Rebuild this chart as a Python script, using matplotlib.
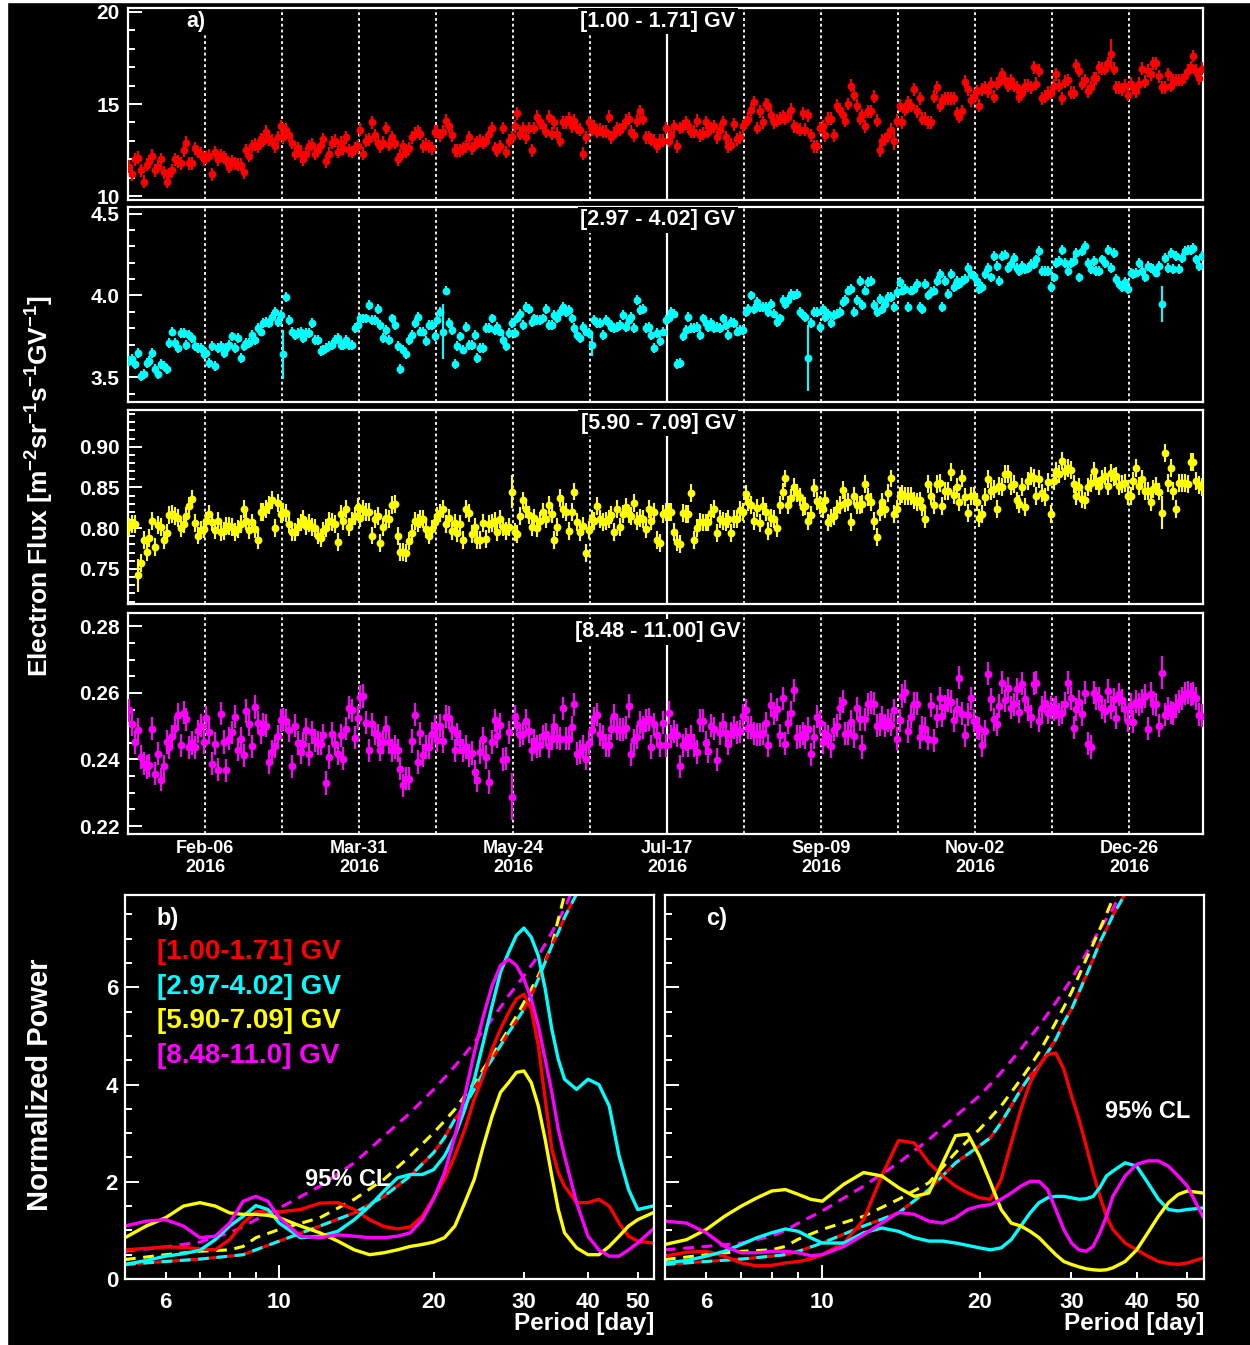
import numpy as np
import pandas as pd
import matplotlib
matplotlib.use("Agg")
import matplotlib.pyplot as plt
import matplotlib.dates as mdates
from matplotlib.patches import Rectangle
from matplotlib.ticker import MultipleLocator, FixedLocator, FormatStrFormatter, FuncFormatter

plt.rcParams['font.family'] = ['Liberation Sans', 'DejaVu Sans']
plt.rcParams['font.weight'] = 'bold'
plt.rcParams['mathtext.fontset'] = 'custom'
plt.rcParams['mathtext.rm'] = 'Liberation Sans:bold'
plt.rcParams['mathtext.bf'] = 'Liberation Sans:bold'
plt.rcParams['mathtext.it'] = 'Liberation Sans:bold'
plt.rcParams['mathtext.default'] = 'bf'

# daily electron fluxes, starting 2016-01-10
flux_1 = [
    11.6, 11.2, 12.0, 12.1, 11.4, 10.8, 11.7, 11.9, 12.2, 11.4, 11.6, 12.0, 11.3, 10.8, 11.2, 11.4, 12.0, 11.9, 11.8, 12.5, 12.9, 11.8, 11.8, 12.6, 12.4, 12.3, 12.0,
    12.1, 12.2, 11.2, 12.4, 12.0, 12.2, 12.1, 12.0, 11.6, 11.9, 11.8, 11.7, 11.7, 11.3, 12.5, 12.2, 12.7, 12.8, 12.7, 13.1, 13.0, 13.5, 13.1, 13.0, 12.7, 13.2, 13.8,
    13.2, 13.6, 13.3, 12.9, 12.3, 12.6, 12.3, 12.0, 12.3, 12.7, 12.8, 12.3, 12.5, 12.8, 13.1, 11.9, 12.3, 12.9, 13.0, 12.4, 12.9, 12.6, 13.2, 12.5, 12.4, 12.6, 12.7,
    13.6, 12.3, 13.0, 13.1, 14.0, 13.3, 12.9, 12.7, 12.9, 13.7, 12.8, 13.2, 12.9, 12.0, 12.2, 12.7, 12.4, 12.6, 13.2, 13.4, 13.5, 13.4, 12.7, 12.8, 12.7, 12.6, 13.5,
    13.5, 13.3, 13.5, 14.1, 13.8, 13.3, 12.5, 12.5, 12.5, 12.6, 12.7, 13.2, 12.6, 12.8, 12.9, 13.0, 12.9, 13.0, 13.4, 13.7, 12.6, 12.5, 12.7, 13.7, 12.4, 13.0, 13.2,
    13.8, 14.5, 13.4, 13.7, 13.2, 13.7, 12.5, 13.7, 14.3, 14.0, 13.8, 13.5, 14.3, 13.4, 14.0, 13.4, 13.0, 14.0, 14.0, 14.2, 13.8, 14.1, 13.7, 13.6, 12.3, 13.2, 14.0,
    13.6, 13.8, 13.5, 13.6, 13.5, 13.5, 14.3, 13.2, 13.4, 13.7, 13.6, 13.8, 14.1, 14.2, 13.5, 13.3, 14.1, 14.6, 14.2, 13.2, 13.2, 13.1, 13.0, 12.7, 13.0, 13.0, 13.7,
    13.0, 13.3, 13.8, 12.7, 13.7, 13.8, 14.0, 13.8, 13.5, 13.5, 14.1, 13.3, 13.4, 14.0, 13.5, 13.7, 13.8, 13.2, 13.6, 14.0, 13.2, 12.7, 12.8, 13.9, 13.1, 13.2, 13.8,
    14.0, 14.2, 14.7, 15.1, 13.7, 14.6, 14.0, 15.0, 14.9, 14.4, 14.0, 14.1, 14.2, 14.3, 14.2, 14.3, 14.7, 13.8, 13.7, 13.6, 14.5, 13.6, 14.4, 13.3, 12.7, 12.7, 13.7,
    13.8, 13.3, 14.2, 14.2, 13.3, 14.9, 14.7, 14.4, 14.1, 15.0, 16.0, 15.5, 14.9, 14.2, 14.4, 13.8, 14.6, 14.6, 15.4, 14.1, 12.5, 13.0, 13.1, 13.3, 13.6, 13.0, 14.1,
    14.9, 14.0, 14.7, 15.1, 14.9, 15.8, 14.6, 15.3, 14.2, 14.2, 14.0, 14.0, 15.4, 15.9, 14.9, 15.2, 15.3, 15.3, 15.3, 15.3, 14.5, 14.3, 14.6, 16.2, 15.8, 15.2, 15.4,
    15.7, 14.9, 15.8, 15.9, 15.7, 16.1, 15.4, 16.1, 16.2, 16.6, 16.3, 16.0, 16.3, 16.0, 15.9, 15.4, 15.6, 16.0, 16.0, 15.9, 17.0, 16.1, 16.8, 15.3, 15.4, 15.6, 15.6,
    16.0, 16.6, 16.0, 15.3, 16.2, 16.3, 15.6, 15.6, 17.1, 16.8, 16.1, 16.3, 15.7, 15.9, 16.4, 16.4, 17.0, 16.9, 16.9, 17.2, 17.7, 16.9, 15.9, 15.9, 15.8, 16.0, 15.5,
    16.1, 15.9, 15.7, 16.1, 16.9, 16.2, 16.8, 16.6, 17.2, 17.2, 16.5, 15.9, 15.9, 16.6, 16.0, 16.3, 16.3, 16.3, 16.3, 16.5, 16.8, 17.0, 17.6, 16.8, 16.4, 16.9,
]
flux_2 = [
    3.60, 3.61, 3.58, 3.65, 3.51, 3.52, 3.59, 3.60, 3.65, 3.55, 3.52, 3.58, 3.57, 3.55, 3.71, 3.78, 3.71, 3.68, 3.77, 3.77, 3.70, 3.76, 3.74, 3.69, 3.68, 3.68, 3.64,
    3.65, 3.59, 3.69, 3.57, 3.68, 3.69, 3.65, 3.68, 3.70, 3.75, 3.68, 3.74, 3.62, 3.69, 3.71, 3.71, 3.76, 3.73, 3.80, 3.78, 3.83, 3.84, 3.83, 3.87, 3.90, 3.84, 3.88,
    3.64, 3.99, 3.85, 3.78, 3.76, 3.77, 3.78, 3.74, 3.77, 3.77, 3.83, 3.73, 3.73, 3.66, 3.67, 3.68, 3.69, 3.70, 3.73, 3.74, 3.70, 3.70, 3.73, 3.70, 3.70, 3.80, 3.82,
    3.86, 3.86, 3.86, 3.94, 3.85, 3.85, 3.92, 3.82, 3.74, 3.79, 3.73, 3.86, 3.82, 3.69, 3.55, 3.67, 3.64, 3.73, 3.76, 3.83, 3.87, 3.78, 3.78, 3.72, 3.82, 3.82, 3.75,
    3.85, 3.90, 3.78, 4.03, 3.83, 3.79, 3.58, 3.69, 3.75, 3.67, 3.81, 3.70, 3.70, 3.76, 3.62, 3.68, 3.68, 3.80, 3.80, 3.86, 3.79, 3.81, 3.78, 3.73, 3.69, 3.77, 3.83,
    3.77, 3.86, 3.89, 3.82, 3.93, 3.92, 3.84, 3.86, 3.85, 3.85, 3.86, 3.92, 3.82, 3.82, 3.88, 3.86, 3.90, 3.93, 3.90, 3.91, 3.86, 3.80, 3.76, 3.74, 3.81, 3.78, 3.77,
    3.70, 3.85, 3.83, 3.83, 3.76, 3.85, 3.83, 3.81, 3.80, 3.81, 3.82, 3.88, 3.81, 3.85, 3.87, 3.80, 3.97, 3.91, 3.92, 3.80, 3.81, 3.76, 3.68, 3.77, 3.72, 3.78, 3.85,
    3.86, 3.90, 3.89, 3.58, 3.59, 3.75, 3.79, 3.87, 3.80, 3.80, 3.81, 3.76, 3.86, 3.83, 3.81, 3.83, 3.80, 3.81, 3.80, 3.86, 3.82, 3.76, 3.84, 3.83, 3.78, 3.79, 3.79,
    3.90, 3.92, 4.00, 3.92, 3.96, 3.93, 3.93, 3.93, 3.90, 3.95, 3.89, 3.84, 3.86, 3.97, 3.95, 3.97, 4.01, 4.00, 4.01, 3.90, 3.88, 3.87, 3.62, 3.83, 3.90, 3.90, 3.81,
    3.92, 3.87, 3.89, 3.83, 3.88, 3.89, 3.90, 3.96, 3.97, 4.03, 4.04, 3.90, 3.97, 4.09, 3.94, 4.03, 4.08, 4.09, 3.94, 3.90, 3.98, 3.92, 3.95, 3.99, 3.99, 3.93, 4.02,
    4.08, 4.03, 4.04, 3.93, 4.03, 4.04, 4.07, 3.93, 3.92, 4.07, 4.00, 4.02, 4.03, 4.09, 4.13, 3.93, 4.09, 4.01, 4.13, 4.05, 4.09, 4.07, 4.09, 4.10, 4.17, 4.13, 4.12,
    4.09, 4.04, 4.05, 4.13, 4.17, 4.11, 4.24, 4.18, 4.09, 4.24, 4.25, 4.17, 4.19, 4.23, 4.17, 4.15, 4.18, 4.16, 4.17, 4.19, 4.19, 4.22, 4.27, 4.15, 4.15, 4.15, 4.05,
    4.11, 4.20, 4.21, 4.28, 4.20, 4.15, 4.20, 4.21, 4.26, 4.11, 4.27, 4.30, 4.20, 4.16, 4.21, 4.15, 4.15, 4.22, 4.20, 4.28, 4.17, 4.26, 4.10, 4.07, 4.05, 4.08, 4.04,
    4.14, 4.13, 4.14, 4.20, 4.15, 4.11, 4.18, 4.17, 4.16, 4.14, 4.18, 3.95, 4.23, 4.17, 4.26, 4.16, 4.24, 4.16, 4.23, 4.27, 4.28, 4.28, 4.29, 4.22, 4.18, 4.24,
]
flux_3 = [
    0.801, 0.805, 0.805, 0.742, 0.757, 0.785, 0.771, 0.788, 0.809, 0.777, 0.804, 0.801, 0.785, 0.794, 0.816, 0.817, 0.815, 0.813, 0.800, 0.805, 0.815, 0.827, 0.836, 0.806, 0.791, 0.798, 0.799,
    0.809, 0.817, 0.807, 0.798, 0.809, 0.795, 0.797, 0.803, 0.803, 0.801, 0.795, 0.799, 0.805, 0.823, 0.809, 0.798, 0.807, 0.799, 0.786, 0.820, 0.820, 0.823, 0.828, 0.835, 0.800, 0.831, 0.817,
    0.820, 0.819, 0.805, 0.795, 0.795, 0.801, 0.807, 0.811, 0.803, 0.806, 0.802, 0.800, 0.791, 0.788, 0.797, 0.800, 0.809, 0.808, 0.805, 0.783, 0.817, 0.809, 0.823, 0.801, 0.809, 0.815, 0.826,
    0.813, 0.824, 0.820, 0.820, 0.791, 0.811, 0.815, 0.782, 0.802, 0.813, 0.811, 0.828, 0.830, 0.790, 0.771, 0.771, 0.769, 0.784, 0.794, 0.809, 0.806, 0.811, 0.811, 0.799, 0.791, 0.799, 0.807,
    0.815, 0.819, 0.824, 0.805, 0.813, 0.796, 0.806, 0.794, 0.805, 0.785, 0.824, 0.819, 0.793, 0.801, 0.786, 0.785, 0.806, 0.787, 0.805, 0.806, 0.809, 0.795, 0.811, 0.802, 0.796, 0.802, 0.845,
    0.795, 0.793, 0.815, 0.834, 0.824, 0.816, 0.801, 0.813, 0.800, 0.809, 0.820, 0.811, 0.828, 0.817, 0.785, 0.801, 0.837, 0.824, 0.820, 0.796, 0.820, 0.845, 0.808, 0.795, 0.803, 0.769, 0.798,
    0.811, 0.809, 0.827, 0.811, 0.808, 0.809, 0.811, 0.816, 0.795, 0.823, 0.802, 0.817, 0.826, 0.817, 0.815, 0.831, 0.809, 0.813, 0.811, 0.799, 0.823, 0.809, 0.820, 0.785, 0.782, 0.817, 0.820,
    0.820, 0.820, 0.795, 0.783, 0.781, 0.819, 0.817, 0.817, 0.843, 0.786, 0.800, 0.808, 0.807, 0.807, 0.807, 0.819, 0.823, 0.794, 0.811, 0.809, 0.808, 0.811, 0.794, 0.811, 0.811, 0.822, 0.820,
    0.842, 0.832, 0.828, 0.809, 0.825, 0.806, 0.827, 0.820, 0.797, 0.813, 0.811, 0.800, 0.828, 0.845, 0.861, 0.828, 0.837, 0.851, 0.843, 0.838, 0.826, 0.827, 0.809, 0.816, 0.849, 0.833, 0.828,
    0.823, 0.835, 0.807, 0.813, 0.815, 0.824, 0.828, 0.847, 0.831, 0.832, 0.808, 0.840, 0.828, 0.828, 0.830, 0.854, 0.838, 0.832, 0.809, 0.789, 0.820, 0.832, 0.824, 0.843, 0.861, 0.817, 0.824,
    0.840, 0.842, 0.839, 0.840, 0.839, 0.834, 0.832, 0.834, 0.826, 0.811, 0.854, 0.840, 0.828, 0.854, 0.856, 0.827, 0.846, 0.846, 0.869, 0.841, 0.850, 0.832, 0.861, 0.838, 0.819, 0.840, 0.839,
    0.832, 0.813, 0.817, 0.838, 0.860, 0.846, 0.848, 0.823, 0.852, 0.850, 0.866, 0.866, 0.852, 0.854, 0.834, 0.830, 0.850, 0.826, 0.858, 0.864, 0.862, 0.839, 0.860, 0.843, 0.838, 0.857, 0.817,
    0.858, 0.870, 0.866, 0.882, 0.870, 0.874, 0.871, 0.854, 0.839, 0.850, 0.836, 0.834, 0.850, 0.856, 0.870, 0.858, 0.852, 0.860, 0.864, 0.852, 0.868, 0.863, 0.864, 0.852, 0.854, 0.856, 0.840,
    0.840, 0.858, 0.874, 0.852, 0.860, 0.846, 0.846, 0.832, 0.848, 0.852, 0.845, 0.819, 0.892, 0.856, 0.874, 0.846, 0.824, 0.855, 0.856, 0.855, 0.854, 0.881, 0.881, 0.858, 0.853, 0.850,
]
flux_4 = [
    0.2548, 0.2506, 0.2452, 0.2489, 0.2407, 0.2387, 0.2377, 0.2382, 0.2492, 0.2357, 0.2417, 0.2339, 0.2379, 0.2452, 0.2436, 0.2469, 0.2495, 0.2534, 0.2442, 0.2541, 0.2521, 0.2436, 0.2449, 0.2436, 0.2485, 0.2501, 0.2452,
    0.2526, 0.2482, 0.2387, 0.2447, 0.2369, 0.2538, 0.2452, 0.2367, 0.2462, 0.2482, 0.2528, 0.2429, 0.2462, 0.2412, 0.2546, 0.2506, 0.2439, 0.2558, 0.2511, 0.2482, 0.2506, 0.2501, 0.2392, 0.2422, 0.2439, 0.2469, 0.2518,
    0.2521, 0.2516, 0.2487, 0.2379, 0.2501, 0.2449, 0.2422, 0.2447, 0.2489, 0.2415, 0.2482, 0.2457, 0.2449, 0.2447, 0.2472, 0.2329, 0.2407, 0.2477, 0.2447, 0.2417, 0.2472, 0.2402, 0.2492, 0.2556, 0.2548, 0.2465, 0.2526,
    0.2588, 0.2591, 0.2511, 0.2427, 0.2506, 0.2479, 0.2472, 0.2429, 0.2452, 0.2495, 0.2452, 0.2427, 0.2437, 0.2427, 0.2372, 0.2322, 0.2342, 0.2342, 0.2455, 0.2534, 0.2392, 0.2479, 0.2412, 0.2437, 0.2437, 0.2477, 0.2499,
    0.2457, 0.2501, 0.2455, 0.2528, 0.2526, 0.2492, 0.2427, 0.2475, 0.2452, 0.2427, 0.2437, 0.2412, 0.2419, 0.2362, 0.2337, 0.2422, 0.2462, 0.2407, 0.2332, 0.2452, 0.2518, 0.2469, 0.2504, 0.2399, 0.2402, 0.2482, 0.2288,
    0.2528, 0.2504, 0.2472, 0.2477, 0.2516, 0.2485, 0.2429, 0.2455, 0.2439, 0.2442, 0.2469, 0.2475, 0.2439, 0.2462, 0.2501, 0.2465, 0.2462, 0.2554, 0.2462, 0.2462, 0.2497, 0.2566, 0.2417, 0.2422, 0.2437, 0.2402, 0.2449,
    0.2487, 0.2524, 0.2534, 0.2475, 0.2467, 0.2442, 0.2442, 0.2492, 0.2531, 0.2492, 0.2489, 0.2489, 0.2495, 0.2561, 0.2415, 0.2457, 0.2467, 0.2511, 0.2495, 0.2516, 0.2521, 0.2437, 0.2506, 0.2472, 0.2442, 0.2511, 0.2442,
    0.2541, 0.2469, 0.2485, 0.2472, 0.2379, 0.2442, 0.2459, 0.2442, 0.2467, 0.2442, 0.2422, 0.2516, 0.2516, 0.2449, 0.2425, 0.2501, 0.2492, 0.2399, 0.2479, 0.2506, 0.2479, 0.2447, 0.2477, 0.2497, 0.2482, 0.2485, 0.2531,
    0.2548, 0.2495, 0.2497, 0.2477, 0.2475, 0.2475, 0.2479, 0.2508, 0.2442, 0.2564, 0.2538, 0.2551, 0.2472, 0.2584, 0.2447, 0.2511, 0.2541, 0.2608, 0.2467, 0.2469, 0.2477, 0.2467, 0.2492, 0.2415, 0.2467, 0.2528, 0.2511,
    0.2452, 0.2477, 0.2469, 0.2439, 0.2489, 0.2501, 0.2554, 0.2574, 0.2477, 0.2479, 0.2514, 0.2469, 0.2554, 0.2521, 0.2437, 0.2521, 0.2566, 0.2571, 0.2568, 0.2501, 0.2506, 0.2526, 0.2501, 0.2516, 0.2504, 0.2548, 0.2462,
    0.2518, 0.2591, 0.2604, 0.2485, 0.2528, 0.2568, 0.2568, 0.2467, 0.2495, 0.2492, 0.2462, 0.2564, 0.2457, 0.2528, 0.2584, 0.2531, 0.2558, 0.2578, 0.2574, 0.2518, 0.2551, 0.2646, 0.2538, 0.2472, 0.2534, 0.2584, 0.2516,
    0.2497, 0.2492, 0.2442, 0.2485, 0.2658, 0.2581, 0.2521, 0.2506, 0.2561, 0.2631, 0.2578, 0.2614, 0.2556, 0.2566, 0.2611, 0.2544, 0.2628, 0.2581, 0.2551, 0.2528, 0.2628, 0.2631, 0.2516, 0.2556, 0.2571, 0.2541, 0.2556,
    0.2551, 0.2556, 0.2536, 0.2541, 0.2568, 0.2631, 0.2584, 0.2495, 0.2551, 0.2574, 0.2536, 0.2601, 0.2447, 0.2437, 0.2601, 0.2584, 0.2584, 0.2556, 0.2546, 0.2606, 0.2556, 0.2581, 0.2526, 0.2596, 0.2578, 0.2551, 0.2516,
    0.2564, 0.2514, 0.2574, 0.2566, 0.2576, 0.2591, 0.2492, 0.2598, 0.2568, 0.2566, 0.2501, 0.2661, 0.2534, 0.2554, 0.2541, 0.2538, 0.2561, 0.2574, 0.2584, 0.2598, 0.2601, 0.2596, 0.2598, 0.2584, 0.2534, 0.2531,
]

# typical error per panel, and the few days with larger errors
err_typ = [0.35, 0.03, 0.011, 0.0035]
err_big = [
    {344: 0.8, 60: 0.5, 268: 0.5},
    {54: 0.15, 110: 0.17, 162: 0.07, 238: 0.2, 362: 0.11},
    {3: 0.02, 134: 0.02, 362: 0.02},
    {134: 0.007, 362: 0.005},
]

titles = ['[1.00 - 1.71] GV', '[2.97 - 4.02] GV', '[5.90 - 7.09] GV', '[8.48 - 11.00] GV']
colors = ['#ff0000', '#00ffff', '#ffff00', '#ff00ff']
ylims = [(9.8, 20.2), (3.35, 4.54), (0.707, 0.945), (0.2176, 0.284)]
ymajor = [5, 0.5, 0.05, 0.02]
yminor = [1, 0.1, 0.01, 0.005]
yfmt = ['%d', '%.1f', '%.2f', '%.2f']

# periodogram (normalized power vs period in days)
period = [5.0, 5.5, 6, 6.5, 7, 7.5, 8, 8.5, 9, 9.5, 10, 11, 12, 13, 14, 15, 16, 17, 18, 19, 20,
          21, 22, 23, 24, 25, 26, 27, 28, 29, 30, 31, 32, 33, 34, 35, 36, 38, 40, 42, 44, 46, 48, 50, 53.5]
pow_b_1 = [0.60, 0.63, 0.66, 0.65, 0.62, 0.60, 0.81, 1.15, 1.38, 1.40, 1.38, 1.43, 1.56, 1.57, 1.43, 1.22, 1.08, 1.03, 1.07, 1.29, 1.67,
           2.05, 2.53, 3.08, 3.70, 4.18, 4.73, 5.14, 5.48, 5.76, 5.86, 5.55, 4.80, 3.70, 2.67, 2.19, 1.91, 1.57, 1.57, 1.64, 1.50, 1.15, 0.88, 0.78, 0.74]
pow_b_2 = [0.30, 0.38, 0.47, 0.52, 0.59, 0.81, 1.09, 1.29, 1.51, 1.43, 1.15, 0.85, 0.88, 0.98, 1.22, 1.50, 1.81, 2.08, 2.15, 2.15, 2.25,
           2.53, 2.94, 3.49, 4.11, 4.87, 5.62, 6.31, 6.72, 7.07, 7.22, 7.03, 6.65, 5.97, 5.14, 4.52, 4.11, 3.90, 4.11, 4.00, 3.56, 2.53, 1.84, 1.43, 1.50]
pow_b_3 = [0.85, 1.09, 1.26, 1.50, 1.57, 1.50, 1.36, 1.33, 1.33, 1.31, 1.26, 1.09, 0.95, 0.78, 0.60, 0.50, 0.54, 0.60, 0.67, 0.71, 0.76,
           0.85, 1.09, 1.57, 2.05, 2.74, 3.35, 3.84, 4.04, 4.25, 4.28, 4.04, 3.56, 2.87, 2.12, 1.43, 0.95, 0.64, 0.50, 0.50, 0.67, 0.88, 1.09, 1.22, 1.36]
pow_b_4 = [1.09, 1.19, 1.22, 1.09, 0.85, 0.88, 1.15, 1.60, 1.70, 1.60, 1.26, 0.88, 0.85, 0.91, 0.88, 0.85, 0.85, 0.88, 0.95, 1.22, 1.65,
           2.19, 2.94, 3.77, 4.66, 5.41, 6.03, 6.45, 6.58, 6.45, 6.17, 5.76, 5.21, 4.52, 3.84, 3.08, 2.53, 1.57, 0.88, 0.60, 0.47, 0.47, 0.60, 0.74, 1.02]
pow_c_1 = [0.47, 0.55, 0.57, 0.47, 0.33, 0.27, 0.28, 0.33, 0.36, 0.41, 0.50, 0.74, 1.22, 2.12, 2.85, 2.80, 2.39, 2.12, 1.91, 1.77, 1.67,
           1.64, 2.05, 2.80, 3.49, 4.04, 4.38, 4.62, 4.65, 4.32, 3.77, 3.29, 2.74, 2.19, 1.70, 1.29, 1.02, 0.74, 0.60, 0.47, 0.36, 0.32, 0.30, 0.33, 0.43]
pow_c_2 = [0.33, 0.38, 0.47, 0.57, 0.71, 0.85, 0.95, 1.03, 0.98, 0.85, 0.74, 0.74, 0.95, 1.05, 0.98, 0.85, 0.78, 0.78, 0.74, 0.69, 0.64,
           0.60, 0.64, 0.81, 1.09, 1.36, 1.57, 1.67, 1.70, 1.70, 1.67, 1.64, 1.65, 1.70, 1.88, 2.12, 2.22, 2.39, 2.32, 1.98, 1.64, 1.43, 1.40, 1.43, 1.46]
pow_c_3 = [0.71, 0.81, 1.02, 1.29, 1.50, 1.67, 1.81, 1.84, 1.74, 1.64, 1.60, 1.95, 2.19, 2.12, 1.88, 1.70, 1.77, 2.39, 2.95, 2.98, 2.53,
           1.98, 1.43, 1.15, 1.09, 0.98, 0.85, 0.67, 0.50, 0.36, 0.30, 0.25, 0.21, 0.19, 0.18, 0.19, 0.23, 0.36, 0.60, 0.95, 1.29, 1.57, 1.74, 1.81, 1.77]
pow_c_4 = [1.19, 1.15, 0.95, 0.67, 0.54, 0.54, 0.57, 0.57, 0.54, 0.48, 0.50, 0.67, 0.91, 1.15, 1.37, 1.33, 1.19, 1.15, 1.26, 1.43, 1.50,
           1.53, 1.64, 1.77, 1.91, 2.01, 2.01, 1.84, 1.43, 1.02, 0.74, 0.60, 0.57, 0.67, 0.95, 1.29, 1.70, 2.12, 2.36, 2.43, 2.43, 2.32, 2.12, 1.91, 1.29]

# 95% confidence levels
cl_period = [5, 6, 7, 8, 8.5, 9, 10, 12, 14, 16, 18, 20, 21, 22, 23, 24, 25, 26, 27, 28, 29, 30, 31, 32, 33, 34, 35, 36, 38]
cl_b_12 = [0.30, 0.36, 0.41, 0.47, 0.50, 0.60, 0.78, 1.09, 1.36, 1.70, 2.12, 2.60, 2.91, 3.29, 3.56, 3.90, 4.25, 4.52, 4.80, 5.07, 5.31, 5.55, 5.83, 6.17, 6.52, 6.86, 7.13, 7.44, 7.92]
cl_b_3 = [0.40, 0.50, 0.57, 0.60, 0.67, 0.85, 1.02, 1.26, 1.64, 2.05, 2.53, 3.01, 3.25, 3.49, 3.77, 4.04, 4.32, 4.59, 4.87, 5.14, 5.41, 5.69, 5.96, 6.24, 6.55, 6.86, 7.40, 7.90, 8.60]
cl_b_4 = [0.57, 0.66, 0.76, 0.95, 1.08, 1.22, 1.46, 1.91, 2.39, 2.94, 3.42, 3.90, 4.14, 4.38, 4.62, 4.87, 5.11, 5.35, 5.59, 5.83, 6.03, 6.24, 6.45, 6.65, 6.89, 7.13, 7.38, 7.62, 8.20]
cl_c_12 = [0.30, 0.36, 0.41, 0.47, 0.50, 0.57, 0.74, 1.09, 1.36, 1.84, 2.39, 2.74, 2.91, 3.22, 3.56, 3.90, 4.18, 4.38, 4.66, 4.93, 5.28, 5.55, 5.90, 6.24, 6.58, 6.93, 7.20, 7.48, 7.92]
cl_c_3 = [0.40, 0.50, 0.57, 0.60, 0.67, 0.82, 1.02, 1.29, 1.64, 1.98, 2.60, 3.08, 3.32, 3.56, 3.84, 4.11, 4.38, 4.66, 4.97, 5.28, 5.59, 5.90, 6.24, 6.58, 6.89, 7.20, 7.51, 7.82, 8.40]
cl_c_4 = [0.60, 0.67, 0.74, 0.88, 1.00, 1.15, 1.40, 1.91, 2.39, 2.87, 3.35, 3.77, 4.01, 4.25, 4.49, 4.73, 4.97, 5.21, 5.45, 5.69, 5.93, 6.17, 6.43, 6.69, 6.95, 7.20, 7.41, 7.62, 8.10]

legend_txt = ['[1.00-1.71] GV', '[2.97-4.02] GV', '[5.90-7.09] GV', '[8.48-11.0] GV']

W, H = 1250, 1345
fig = plt.figure(figsize=(W / 100, H / 100), dpi=100, facecolor='black')


def rect(x0, y0, x1, y1):
    return [x0 / W, 1 - y1 / H, (x1 - x0) / W, (y1 - y0) / H]


def frame(ax):
    ax.set_facecolor('black')
    for s in ax.spines.values():
        s.set_color('white')
        s.set_linewidth(1.6)


# ---- time series panels ----
top_px = [(8, 200), (207, 402), (410, 604), (613, 834)]
x_start = pd.Timestamp('2016-01-10')
x_end = pd.Timestamp('2017-01-20 21:00')
bartels = pd.date_range('2016-02-06', periods=13, freq='27D')
tick_days = pd.date_range('2016-02-06', periods=7, freq='54D')
all_flux = [flux_1, flux_2, flux_3, flux_4]

for i, flux in enumerate(all_flux):
    ax = fig.add_axes(rect(128, top_px[i][0], 1203, top_px[i][1]))
    frame(ax)
    n = len(flux)
    days = pd.Timestamp('2016-01-10 12:00') + pd.to_timedelta(np.arange(n), 'D')
    err = np.full(n, err_typ[i])
    for k, v in err_big[i].items():
        if k < n:
            err[k] = v
    for d in bartels:
        if d == pd.Timestamp('2016-07-17'):
            ax.axvline(d, color='white', lw=1.6, zorder=1)
        else:
            ax.axvline(d, color='white', lw=1.3, ls=(0, (1.6, 1.6)), zorder=1)
    ax.errorbar(days, flux, yerr=err, fmt='o', ms=4.6, color=colors[i], mec=colors[i],
                ecolor=colors[i], elinewidth=1.5, capsize=0, zorder=3)
    ax.set_xlim(x_start, x_end)
    ax.set_ylim(*ylims[i])
    ax.yaxis.set_major_locator(MultipleLocator(ymajor[i]))
    ax.yaxis.set_minor_locator(MultipleLocator(yminor[i]))
    ax.yaxis.set_major_formatter(FormatStrFormatter(yfmt[i]))
    ax.tick_params(axis='y', which='both', direction='in', colors='white', labelsize=15, pad=6, width=1.4)
    ax.tick_params(axis='y', which='major', length=10)
    ax.tick_params(axis='y', which='minor', length=5)
    ax.xaxis.set_major_locator(FixedLocator(mdates.date2num(tick_days)))
    ax.xaxis.set_major_formatter(mdates.DateFormatter('%b-%d\n%Y'))
    ax.tick_params(axis='x', which='both', length=0, colors='white', labelsize=13, pad=4)
    if i < 3:
        ax.tick_params(axis='x', labelbottom=False)
    ty = 1 - (19 if i == 3 else 13) / (top_px[i][1] - top_px[i][0])
    ax.text(0.493, ty, titles[i], transform=ax.transAxes, ha='center', va='center',
            color='white', fontsize=15.5, fontweight='bold', zorder=5,
            bbox=dict(fc='black', ec='none', pad=1.5))
    if i == 0:
        ax.text(0.063, ty, 'a)', transform=ax.transAxes, ha='center', va='center',
                color='white', fontsize=15.5, fontweight='bold', zorder=5,
                bbox=dict(fc='black', ec='none', pad=1.0))

fig.text(40 / W, 1 - 486 / H, r'Electron Flux [m$^{-2}$sr$^{-1}$s$^{-1}$GV$^{-1}$]',
         rotation=90, ha='center', va='center', color='white', fontsize=19, fontweight='bold')

# ---- periodogram panels ----
solid_b = [pow_b_1, pow_b_2, pow_b_3, pow_b_4]
solid_c = [pow_c_1, pow_c_2, pow_c_3, pow_c_4]
panels = [
    (rect(125, 895, 654, 1279), solid_b, cl_b_12, cl_b_3, cl_b_4, 'b)', (0.06, 0.94), (0.4216, 0.258)),
    (rect(665, 895, 1204, 1279), solid_c, cl_c_12, cl_c_3, cl_c_4, 'c)', (0.076, 0.94), (0.896, 0.4375)),
]
dash = (0, (3.5, 2.5))
for j, (r, solids, cl12, cl3, cl4, tag, tag_xy, cl_xy) in enumerate(panels):
    ax = fig.add_axes(r)
    frame(ax)
    ax.set_xscale('log')
    ax.plot(cl_period, cl4, color=colors[3], lw=2.2, ls=dash)
    ax.plot(cl_period, cl3, color=colors[2], lw=2.2, ls=dash)
    ax.plot(cl_period, cl12, color=colors[0], lw=2.2)
    ax.plot(cl_period, cl12, color=colors[1], lw=2.2, ls=dash)
    for k in range(4):
        ax.plot(period, solids[k], color=colors[k], lw=2.4)
    ax.set_xlim(5.0, 53.8)
    ax.set_ylim(0, 7.9)
    ax.yaxis.set_major_locator(MultipleLocator(2))
    ax.yaxis.set_minor_locator(MultipleLocator(0.5))
    ax.xaxis.set_major_locator(FixedLocator([10]))
    ax.xaxis.set_minor_locator(FixedLocator([6, 7, 8, 9, 20, 30, 40, 50]))
    ax.xaxis.set_major_formatter(FuncFormatter(lambda v, p: '%g' % v))
    ax.xaxis.set_minor_formatter(FuncFormatter(lambda v, p: '%g' % v if round(v) in (6, 20, 30, 40, 50) else ''))
    ax.tick_params(which='both', direction='in', colors='white', labelsize=16, width=1.4)
    ax.tick_params(which='major', length=10)
    ax.tick_params(which='minor', length=5)
    ax.tick_params(axis='x', which='both', pad=9)
    ax.tick_params(axis='y', which='both', pad=5, labelleft=(j == 0))
    ax.text(1.0, -0.117, 'Period [day]', transform=ax.transAxes, ha='right', va='center',
            color='white', fontsize=17.5, fontweight='bold')
    ax.text(tag_xy[0], tag_xy[1], tag, transform=ax.transAxes, ha='left', va='center',
            color='white', fontsize=17, fontweight='bold')
    ax.text(cl_xy[0], cl_xy[1], '95% CL', transform=ax.transAxes, ha='center', va='center',
            color='white', fontsize=17, fontweight='bold', zorder=6)
    if j == 0:
        for k, yy in enumerate([952, 987, 1021, 1056]):
            ax.text(0.06, 1 - (yy - 895) / 384, legend_txt[k], transform=ax.transAxes,
                    ha='left', va='center', color=colors[k], fontsize=20, fontweight='bold')

fig.text(40 / W, 1 - 1085 / H, 'Normalized Power', rotation=90, ha='center', va='center',
         color='white', fontsize=21, fontweight='bold')

# light strips at the left and top edges of the original picture
fig.patches.append(Rectangle((0, 0), 7 / W, 1, transform=fig.transFigure, color='white', zorder=0))
fig.patches.append(Rectangle((0, 1 - 2 / H), 1, 2 / H, transform=fig.transFigure, color='white', zorder=0))

fig.savefig('out.png', dpi=100, facecolor='black')
